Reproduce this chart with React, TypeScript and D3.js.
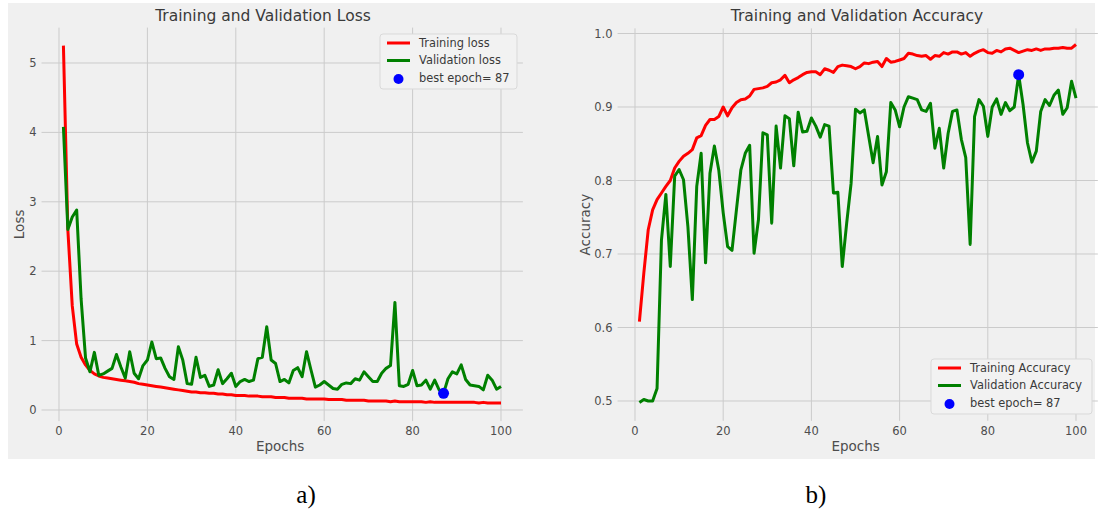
import React, { useEffect, useRef } from "react";
import * as d3 from "d3";

// epochs 1..100
const epochs = d3.range(1, 101);

const trainLoss = [
  5.25, 2.6, 1.5, 0.95, 0.76, 0.65, 0.57, 0.52, 0.49, 0.47,
  0.46, 0.45, 0.44, 0.43, 0.42, 0.41, 0.4, 0.38, 0.37, 0.36,
  0.35, 0.34, 0.33, 0.32, 0.31, 0.3, 0.29, 0.28, 0.27, 0.26,
  0.26, 0.25, 0.25, 0.24, 0.24, 0.23, 0.23, 0.22, 0.22, 0.21,
  0.21, 0.21, 0.2, 0.2, 0.2, 0.19, 0.19, 0.19, 0.18, 0.18,
  0.18, 0.17, 0.17, 0.17, 0.17, 0.16, 0.16, 0.16, 0.16, 0.16,
  0.15, 0.15, 0.15, 0.15, 0.14, 0.14, 0.14, 0.14, 0.14, 0.13,
  0.13, 0.13, 0.13, 0.13, 0.12, 0.13, 0.12, 0.12, 0.12, 0.12,
  0.12, 0.12, 0.11, 0.12, 0.11, 0.11, 0.11, 0.11, 0.11, 0.11,
  0.11, 0.11, 0.11, 0.11, 0.1, 0.11, 0.1, 0.1, 0.1, 0.1,
];

const valLoss = [
  4.08, 2.6, 2.78, 2.88, 1.6, 0.75, 0.55, 0.83, 0.5, 0.52,
  0.56, 0.6, 0.8, 0.62, 0.46, 0.84, 0.53, 0.45, 0.64, 0.72,
  0.98, 0.74, 0.75, 0.6, 0.48, 0.44, 0.91, 0.72, 0.38, 0.37,
  0.76, 0.47, 0.5, 0.34, 0.36, 0.58, 0.38, 0.45, 0.53, 0.34,
  0.41, 0.44, 0.41, 0.43, 0.74, 0.76, 1.2, 0.72, 0.67, 0.41,
  0.44, 0.39, 0.57, 0.61, 0.48, 0.84, 0.58, 0.33, 0.36, 0.41,
  0.36, 0.31, 0.3, 0.37, 0.39, 0.38, 0.45, 0.43, 0.55, 0.48,
  0.41, 0.41, 0.53, 0.6, 0.64, 1.55, 0.35, 0.34, 0.37, 0.57,
  0.35, 0.36, 0.43, 0.3, 0.43, 0.29, 0.24, 0.45, 0.55, 0.52,
  0.65, 0.44, 0.36, 0.35, 0.34, 0.29, 0.5, 0.43, 0.3, 0.34,
];

const trainAcc = [
  0.608, 0.674, 0.733, 0.76, 0.774, 0.783, 0.792, 0.8, 0.817, 0.826,
  0.833, 0.837, 0.842, 0.858, 0.861, 0.875, 0.883, 0.883, 0.887, 0.9,
  0.888, 0.899, 0.906, 0.91, 0.911, 0.915, 0.924, 0.925, 0.926, 0.928,
  0.933, 0.934, 0.937, 0.943, 0.933, 0.937, 0.94, 0.944, 0.947, 0.948,
  0.948, 0.944, 0.952, 0.95, 0.947, 0.955, 0.957, 0.956, 0.955, 0.952,
  0.955, 0.96, 0.959, 0.961, 0.962, 0.955, 0.966, 0.961, 0.962, 0.964,
  0.966, 0.973, 0.972, 0.97, 0.969, 0.97, 0.965, 0.97, 0.969, 0.974,
  0.972, 0.975, 0.975, 0.972, 0.974, 0.969, 0.973, 0.976, 0.978, 0.974,
  0.973, 0.977, 0.975, 0.979, 0.98, 0.977, 0.974, 0.976, 0.978, 0.977,
  0.979, 0.977, 0.979, 0.979, 0.98, 0.98, 0.981, 0.98, 0.98, 0.985,
];

const valAcc = [
  0.498, 0.502, 0.5, 0.5, 0.517, 0.719, 0.781, 0.683, 0.806, 0.815,
  0.801, 0.737, 0.638, 0.792, 0.837, 0.688, 0.81, 0.847, 0.814, 0.756,
  0.71, 0.705, 0.76, 0.814, 0.837, 0.848, 0.701, 0.747, 0.865, 0.862,
  0.742, 0.874, 0.817, 0.888, 0.884, 0.82, 0.893, 0.866, 0.867, 0.885,
  0.874, 0.859, 0.876, 0.874, 0.783, 0.784, 0.683, 0.742, 0.796, 0.897,
  0.892, 0.896, 0.86, 0.824, 0.86, 0.794, 0.812, 0.906, 0.896, 0.873,
  0.9, 0.914, 0.912, 0.91, 0.896, 0.894, 0.905, 0.844, 0.871, 0.817,
  0.864, 0.894, 0.896, 0.856, 0.831, 0.713, 0.887, 0.91, 0.901, 0.86,
  0.9, 0.911, 0.89, 0.906, 0.895, 0.9, 0.944, 0.903, 0.851, 0.825,
  0.84, 0.894, 0.91, 0.902, 0.916, 0.923, 0.89, 0.899, 0.935, 0.912,
];

const bestEpoch = 87;
const xTicks = [0, 20, 40, 60, 80, 100];
const lossTicks = [0, 1, 2, 3, 4, 5];
const accTicks = [0.5, 0.6, 0.7, 0.8, 0.9, 1.0];

const FONT = "DejaVu Sans, sans-serif";

function drawPanel(svg, opts) {
  const { x, y, xDom, yDom, yTicks, yFmt, train, val, title, titleX, ylabel, ylabelX, legend } = opts;
  const [x0, x1] = xDom.map(x);
  const [y0, y1] = yDom.map(y);
  const g = svg.append("g");

  // grid
  g.append("g")
    .selectAll("line")
    .data(xTicks)
    .join("line")
    .attr("x1", (d) => x(d))
    .attr("x2", (d) => x(d))
    .attr("y1", y0)
    .attr("y2", y1)
    .attr("stroke", "#cbcbcb")
    .attr("stroke-width", 1);
  g.append("g")
    .selectAll("line")
    .data(yTicks)
    .join("line")
    .attr("x1", x0)
    .attr("x2", x1)
    .attr("y1", (d) => y(d))
    .attr("y2", (d) => y(d))
    .attr("stroke", "#cbcbcb")
    .attr("stroke-width", 1);

  // tick labels
  g.append("g")
    .selectAll("text")
    .data(xTicks)
    .join("text")
    .attr("x", (d) => x(d))
    .attr("y", y0 + 14)
    .attr("text-anchor", "middle")
    .attr("font-family", FONT)
    .attr("font-size", 11.5)
    .attr("fill", "#4d4d4d")
    .text((d) => d);
  g.append("g")
    .selectAll("text")
    .data(yTicks)
    .join("text")
    .attr("x", x0 - 5)
    .attr("y", (d) => y(d))
    .attr("dy", "0.35em")
    .attr("text-anchor", "end")
    .attr("font-family", FONT)
    .attr("font-size", 11.5)
    .attr("fill", "#4d4d4d")
    .text(yFmt);

  // labels
  g.append("text")
    .attr("x", titleX)
    .attr("y", 21)
    .attr("text-anchor", "middle")
    .attr("font-family", FONT)
    .attr("font-size", 15.5)
    .attr("fill", "#3a3a3a")
    .text(title);
  g.append("text")
    .attr("x", (x0 + x1) / 2 - 2)
    .attr("y", 451)
    .attr("text-anchor", "middle")
    .attr("font-family", FONT)
    .attr("font-size", 13.5)
    .attr("fill", "#4d4d4d")
    .text("Epochs");
  g.append("text")
    .attr("transform", `translate(${ylabelX},${(y0 + y1) / 2}) rotate(-90)`)
    .attr("text-anchor", "middle")
    .attr("font-family", FONT)
    .attr("font-size", 13.5)
    .attr("fill", "#4d4d4d")
    .text(ylabel);

  // lines
  const line = (arr) =>
    d3
      .line()
      .x((d, i) => x(epochs[i]))
      .y((d) => y(d))(arr);
  g.append("path")
    .attr("d", line(train))
    .attr("fill", "none")
    .attr("stroke", "#ff0000")
    .attr("stroke-width", 3)
    .attr("stroke-linejoin", "round");
  g.append("path")
    .attr("d", line(val))
    .attr("fill", "none")
    .attr("stroke", "#008000")
    .attr("stroke-width", 3)
    .attr("stroke-linejoin", "round");
  g.append("circle")
    .attr("cx", x(bestEpoch))
    .attr("cy", y(val[bestEpoch - 1]))
    .attr("r", 5.5)
    .attr("fill", "#0000ff");

  // legend
  const lg = g.append("g").attr("transform", `translate(${legend.x},${legend.y})`);
  lg.append("rect")
    .attr("width", legend.w)
    .attr("height", 55)
    .attr("rx", 3)
    .attr("fill", "#f2f2f2")
    .attr("stroke", "#d9d9d9");
  const items = [
    { label: legend.labels[0], color: "#ff0000", kind: "line" },
    { label: legend.labels[1], color: "#008000", kind: "line" },
    { label: "best epoch= " + bestEpoch, color: "#0000ff", kind: "dot" },
  ];
  items.forEach((it, i) => {
    const cy = 9 + i * 17.5;
    if (it.kind === "line") {
      lg.append("line")
        .attr("x1", 7)
        .attr("x2", 30)
        .attr("y1", cy)
        .attr("y2", cy)
        .attr("stroke", it.color)
        .attr("stroke-width", 3);
    } else {
      lg.append("circle").attr("cx", 18.5).attr("cy", cy + 1).attr("r", 5).attr("fill", it.color);
    }
    lg.append("text")
      .attr("x", 39)
      .attr("y", cy)
      .attr("dy", "0.35em")
      .attr("font-family", FONT)
      .attr("font-size", 11.4)
      .attr("fill", "#3a3a3a")
      .text(it.label);
  });
}

const App = () => {
  const ref = useRef(null);

  useEffect(() => {
    const svg = d3.select(ref.current);
    svg.selectAll("*").remove();

    // figure background
    svg.append("rect").attr("x", 8).attr("y", 3).attr("width", 1087).attr("height", 456).attr("fill", "#f0f0f0");

    // Loss panel
    const xL = d3.scaleLinear().domain([0, 100]).range([59, 501]);
    const yL = d3.scaleLinear().domain([0, 5]).range([410, 63]);
    drawPanel(svg, {
      x: xL,
      y: yL,
      xDom: [-3.95, 104.95],
      yDom: [-0.16, 5.51],
      yTicks: lossTicks,
      yFmt: (d) => d,
      train: trainLoss,
      val: valLoss,
      title: "Training and Validation Loss",
      titleX: 263,
      ylabel: "Loss",
      ylabelX: 24,
      legend: { x: 380, y: 34, w: 137, labels: ["Training loss", "Validation loss"] },
    });

    // Accuracy panel
    const xR = d3.scaleLinear().domain([0, 100]).range([635, 1076]);
    const yR = d3.scaleLinear().domain([0.5, 1.0]).range([401, 33.5]);
    drawPanel(svg, {
      x: xR,
      y: yR,
      xDom: [-3.95, 104.95],
      yDom: [0.473, 1.007],
      yTicks: accTicks,
      yFmt: (d) => d.toFixed(1),
      train: trainAcc,
      val: valAcc,
      title: "Training and Validation Accuracy",
      titleX: 857,
      ylabel: "Accuracy",
      ylabelX: 590,
      legend: { x: 931, y: 359, w: 161, labels: ["Training Accuracy", "Validation Accuracy"] },
    });

    // captions
    svg.append("text")
      .attr("x", 306)
      .attr("y", 503)
      .attr("text-anchor", "middle")
      .attr("font-family", "Liberation Serif, serif")
      .attr("font-size", 25)
      .attr("fill", "#000")
      .text("a)");
    svg.append("text")
      .attr("x", 816)
      .attr("y", 503)
      .attr("text-anchor", "middle")
      .attr("font-family", "Liberation Serif, serif")
      .attr("font-size", 25)
      .attr("fill", "#000")
      .text("b)");
  }, []);

  return (
    <svg
      ref={ref}
      width={1101}
      height={517}
      style={{ position: "absolute", left: 0, top: 0, background: "#fff" }}
    ></svg>
  );
};

export default App;
